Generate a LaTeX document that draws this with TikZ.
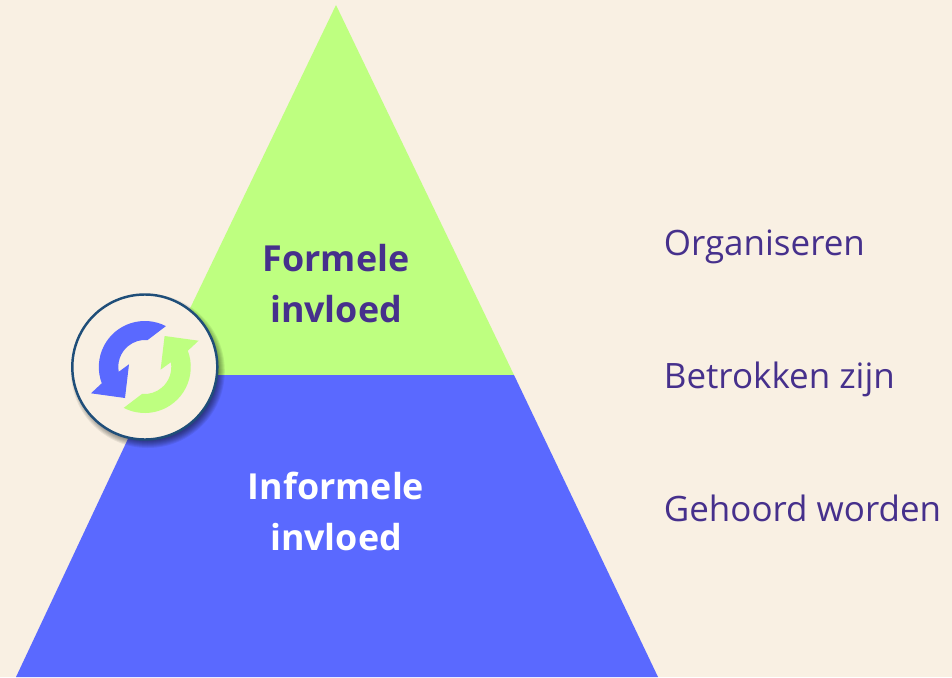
\documentclass[tikz,border=0pt]{standalone}
\usepackage{fontspec}
\setmainfont{Open Sans}
\usepackage{xcolor}
\definecolor{pagebg}{RGB}{249,240,227}
\definecolor{formalgreen}{RGB}{190,255,128}
\definecolor{informalblue}{RGB}{90,105,255}
\definecolor{textpurple}{RGB}{70,48,140}
\definecolor{ringblue}{RGB}{31,78,121}
\newcommand{\cyclearrow}{(62.7:46) arc[start angle=62.7, end angle=200.7, radius=46] -- (-53.8,-26.3) -- (-19.8,-31) -- (-15.8,2.7) -- (190.4:26.5) arc[start angle=190.4, end angle=85, radius=27] -- cycle}

\begin{document}
\begin{tikzpicture}[
    x=0.02cm, y=0.02cm,
    level/.style={font=\fontsize{20.4pt}{29pt}\selectfont\bfseries, align=center, inner sep=0pt},
    activity/.style={font=\fontsize{19.9pt}{23pt}\selectfont, text=textpurple, anchor=base west, inner sep=0pt}
]
    \useasboundingbox (0,0) rectangle (952,677);
    \fill[pagebg] (0,0) rectangle (952,677);

    \coordinate (apex) at (336,672);
    \coordinate (midleft) at (158,302);
    \coordinate (midright) at (514,302);
    \coordinate (baseleft) at (16,0);
    \coordinate (baseright) at (658,0);
    \fill[formalgreen] (apex) -- (midright) -- (midleft) -- cycle;
    \fill[informalblue] (midleft) -- (midright) -- (baseright) -- (baseleft) -- cycle;

    \node[level, text=textpurple] (formal) at (336,393) {Formele\\invloed};
    \node[level, text=white] (informal) at (336,165.5) {Informele\\invloed};

    \node[activity] (organise) at (663.5,422) {Organiseren};
    \node[activity] (involved) at (663.5,289) {Betrokken zijn};
    \node[activity] (heard) at (663.5,156) {Gehoord worden};

    % soft shadow of the ring
    \foreach \r in {77,76,75,74,73,72,71,70}
        \fill[black, opacity=0.07] (147.8,306) circle[radius=\r];
    \fill[pagebg, draw=ringblue, line width=1.4pt] (144.8,310) circle[radius=72.5];

    \begin{scope}[shift={(144.8,310)}]
        \fill[informalblue] \cyclearrow;
        \fill[formalgreen, rotate=180] \cyclearrow;
    \end{scope}
\end{tikzpicture}
\end{document}
